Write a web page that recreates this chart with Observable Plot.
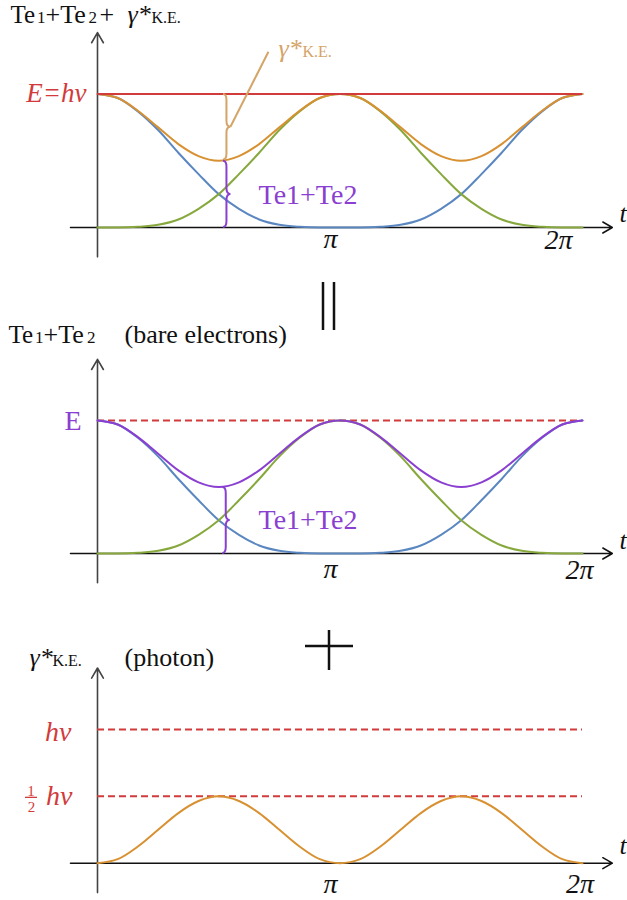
<!DOCTYPE html>
<html><head><meta charset="utf-8">
<script src="https://cdn.jsdelivr.net/npm/d3@7"></script>
<script src="https://cdn.jsdelivr.net/npm/@observablehq/plot@0.6"></script>
<style>
body{margin:0;background:#fff;font-family:'Liberation Serif';}
#chart{position:relative;width:627px;height:900px;overflow:hidden;}
#chart svg{display:block;overflow:visible;}
</style></head><body>
<div id="chart"></div>
<script>
const PI = Math.PI;
// sample positions: t = step · π/12
const steps = [0,1,2,3,4,5,6,7,8,9,10,11,12,13,14,15,16,17,18,19,20,21,22,23,24];
// Te1 (blue), Te2 (green), Te1+Te2 (orange / purple), photon γ*K.E. (orange), in units of E = hν
const te1 = [1,0.97,0.87,0.73,0.56,0.40,0.25,0.14,0.06,0.02,0.005,0,0,0,0.005,0.02,0.06,0.14,0.25,0.40,0.56,0.73,0.87,0.97,1];
const te2 = [0,0,0.005,0.02,0.06,0.14,0.25,0.40,0.56,0.73,0.87,0.97,1,0.97,0.87,0.73,0.56,0.40,0.25,0.14,0.06,0.02,0.005,0,0];
const teSum = [1,0.97,0.875,0.75,0.625,0.535,0.5,0.535,0.625,0.75,0.875,0.97,1,0.97,0.875,0.75,0.625,0.535,0.5,0.535,0.625,0.75,0.875,0.97,1];
const photon = [0,0.03,0.125,0.25,0.375,0.465,0.5,0.465,0.375,0.25,0.125,0.03,0,0.03,0.125,0.25,0.375,0.465,0.5,0.465,0.375,0.25,0.125,0.03,0];
const xTickValues = [PI, 2 * PI];
const xTickLabels = ["π", "2π"];
const levelE = 1, levelHalf = 0.5;
const axisXExtent = [-0.35, 6.67];
const axisYExtent = [-0.22, 1.46];

const rows = steps.map((k, i) => ({t: k * PI / 12, te1: te1[i], te2: te2[i], sum: teSum[i], photon: photon[i]}));

const C = {blue: "#5b87c1", green: "#86a83d", orange: "#d89132", purple: "#8a3fd1", red: "#d23b3b", tan: "#d4a468", axis: "#444", ink: "#111"};
const SERIF = "Liberation Serif";

const txt = (s, x, y, o = {}) => Plot.text([s], {text: d => d, frameAnchor: "top-left", dx: x, dy: y, lineAnchor: "bottom", textAnchor: "start", fontSize: 26, fontFamily: SERIF, fill: C.ink, ...o});
const axes = () => [
  Plot.arrow([0], {x1: axisXExtent[0], x2: axisXExtent[1], y1: 0, y2: 0, stroke: C.ink, strokeWidth: 1.5, headLength: 11, headAngle: 60}),
  Plot.arrow([0], {x1: 0, x2: 0, y1: axisYExtent[0], y2: axisYExtent[1], stroke: C.axis, strokeWidth: 1.6, headLength: 11, headAngle: 60})
];
const line = (key, color) => Plot.line(rows, {x: "t", y: key, stroke: color, strokeWidth: 2, curve: "monotone-x"});
const ticks = (dxs, dys) => xTickValues.map((v, i) => Plot.text([v], {x: d => d, y: 0, text: [xTickLabels[i]], dx: dxs[i], dy: dys[i], textAnchor: "middle", lineAnchor: "bottom", fontSize: 28, fontStyle: "italic", fontFamily: SERIF, fill: C.ink}));
const hRule = (v, color, dashed) => Plot.ruleY([v], {x1: 0, x2: 2 * PI, stroke: color, strokeWidth: 2, strokeDasharray: dashed ? "7,4" : null});

function bracePath(xt, y1, y2) {
  const xs = xt + 3.5, xc = xt + 7.5, r = 6, ym = (y1 + y2) / 2;
  return `M${xt},${y1}Q${xs},${y1} ${xs},${y1 + r}L${xs},${ym - r}Q${xs},${ym} ${xc},${ym}Q${xs},${ym} ${xs},${ym + r}L${xs},${y2 - r}Q${xs},${y2} ${xt},${y2}`;
}
const braceMark = (tx, vTop, vBot, color, dxTip, pad, leader) => (index, scales) => {
  const xt = scales.x(tx) + dxTip, y1 = scales.y(vTop) + pad[0], y2 = scales.y(vBot) + pad[1];
  const g = d3.create("svg:g").attr("fill", "none").attr("stroke", color).attr("stroke-width", 2);
  g.append("path").attr("d", bracePath(xt, y1, y2));
  if (leader) g.append("path").attr("d", `M${xt + 7.5},${(y1 + y2) / 2}l${leader[0]},${leader[1]}`);
  return g.node();
};
const pathMark = (d, stroke, w) => () => d3.create("svg:path").attr("d", d).attr("fill", "none").attr("stroke", stroke).attr("stroke-width", w).node();
const fracBar = (v, color) => (index, scales) => d3.create("svg:path")
  .attr("d", `M${scales.x(0) - 72},${scales.y(v) + 1.5}h12`).attr("stroke", color).attr("stroke-width", 1.3).node();

const base = (height, y0, y1, marks) => Plot.plot({
  width: 627, height, margin: 0,
  x: {domain: [0, 2 * PI], range: [97, 582], axis: null},
  y: {domain: [0, 1], range: [y0, y1], axis: null},
  marks
});

// Panel 1: Te1 + Te2 + γ*K.E.
const p1 = base(270, 227, 93.5, [
  ...axes(),
  line("te1", C.blue),
  line("te2", C.green),
  line("sum", C.orange),
  hRule(levelE, C.red, false),
  braceMark(PI / 2, levelE, teSum[6], C.tan, 4.7, [0.5, -0.8], [38, -75]),
  braceMark(PI / 2, teSum[6], 0, C.purple, 4.7, [0.6, 0], null),
  txt("γ*", 278, 56, {fill: C.tan, fontStyle: "italic", fontSize: 26}),
  txt("K.E.", 302, 56, {fill: C.tan, fontSize: 16}),
  txt("Te1+Te2", 258, 203, {fill: C.purple, fontSize: 28}),
  Plot.text([levelE], {x: 0, y: d => d, text: ["E=hν"], dx: -11, dy: 8, textAnchor: "end", lineAnchor: "bottom", fontSize: 27, fontStyle: "italic", fontFamily: SERIF, fill: C.red}),
  ...ticks([-9.5, -24], [20, 21]),
  txt("t", 619, 221, {fontStyle: "italic", fontSize: 26}),
  txt("Te", 10, 22, {fontSize: 25}),
  txt("1", 36.5, 22, {fontSize: 17}),
  txt("+Te", 45, 22, {fontSize: 26}),
  txt("2", 88, 22, {fontSize: 17}),
  txt("+", 99, 22, {fontSize: 26}),
  txt("γ*", 127, 22, {fontSize: 26, fontStyle: "italic"}),
  txt("K.E.", 151, 22, {fontSize: 16})
]);

// Panel 2: Te1 + Te2 (bare electrons)
const p2 = base(330, 283, 150, [
  pathMark("M323,12V60M334,12V60", C.ink, 2.5),
  ...axes(),
  hRule(levelE, C.red, true),
  line("te1", C.blue),
  line("te2", C.green),
  line("sum", C.purple),
  braceMark(PI / 2, teSum[6], 0, C.purple, 4, [0.5, 0], null),
  txt("Te1+Te2", 258, 258, {fill: C.purple, fontSize: 28}),
  Plot.text([levelE], {x: 0, y: d => d, text: ["E"], dx: -16, dy: 9, textAnchor: "end", lineAnchor: "bottom", fontSize: 28, fontFamily: SERIF, fill: C.purple}),
  ...ticks([-9.5, -3], [24, 25]),
  txt("t", 619, 278, {fontStyle: "italic", fontSize: 26}),
  txt("Te", 8, 72.7, {fontSize: 25}),
  txt("1", 34.5, 72.7, {fontSize: 17}),
  txt("+Te", 43, 72.7, {fontSize: 26}),
  txt("2", 86.5, 72.7, {fontSize: 17}),
  txt("(bare electrons)", 124, 72.7, {fontSize: 26})
]);

// Panel 3: γ*K.E. (photon)
const p3 = base(300, 262.7, 129, [
  pathMark("M329,30V70M305,46H353", C.ink, 2.5),
  ...axes(),
  hRule(levelE, C.red, true),
  hRule(levelHalf, C.red, true),
  line("photon", C.orange),
  Plot.text([levelE], {x: 0, y: d => d, text: ["hν"], dx: -26, dy: 11, textAnchor: "end", lineAnchor: "bottom", fontSize: 28, fontStyle: "italic", fontFamily: SERIF, fill: C.red}),
  Plot.text([levelHalf], {x: 0, y: d => d, text: ["hν"], dx: -25, dy: 9, textAnchor: "end", lineAnchor: "bottom", fontSize: 28, fontStyle: "italic", fontFamily: SERIF, fill: C.red}),
  Plot.text([levelHalf], {x: 0, y: d => d, text: ["1"], dx: -66.5, dy: -0.5, textAnchor: "middle", lineAnchor: "bottom", fontSize: 15, fontFamily: SERIF, fill: C.red}),
  Plot.text([levelHalf], {x: 0, y: d => d, text: ["2"], dx: -66, dy: 16, textAnchor: "middle", lineAnchor: "bottom", fontSize: 15, fontFamily: SERIF, fill: C.red}),
  fracBar(levelHalf, C.red),
  ...ticks([-9.5, -2.5], [29.3, 29.3]),
  txt("t", 619, 253, {fontStyle: "italic", fontSize: 26}),
  txt("γ*", 29, 65, {fontSize: 26, fontStyle: "italic"}),
  txt("K.E.", 52, 65, {fontSize: 16}),
  txt("(photon)", 124, 65, {fontSize: 26})
]);

const root = document.getElementById("chart");
root.append(p1, p2, p3);
</script>
</body></html>
